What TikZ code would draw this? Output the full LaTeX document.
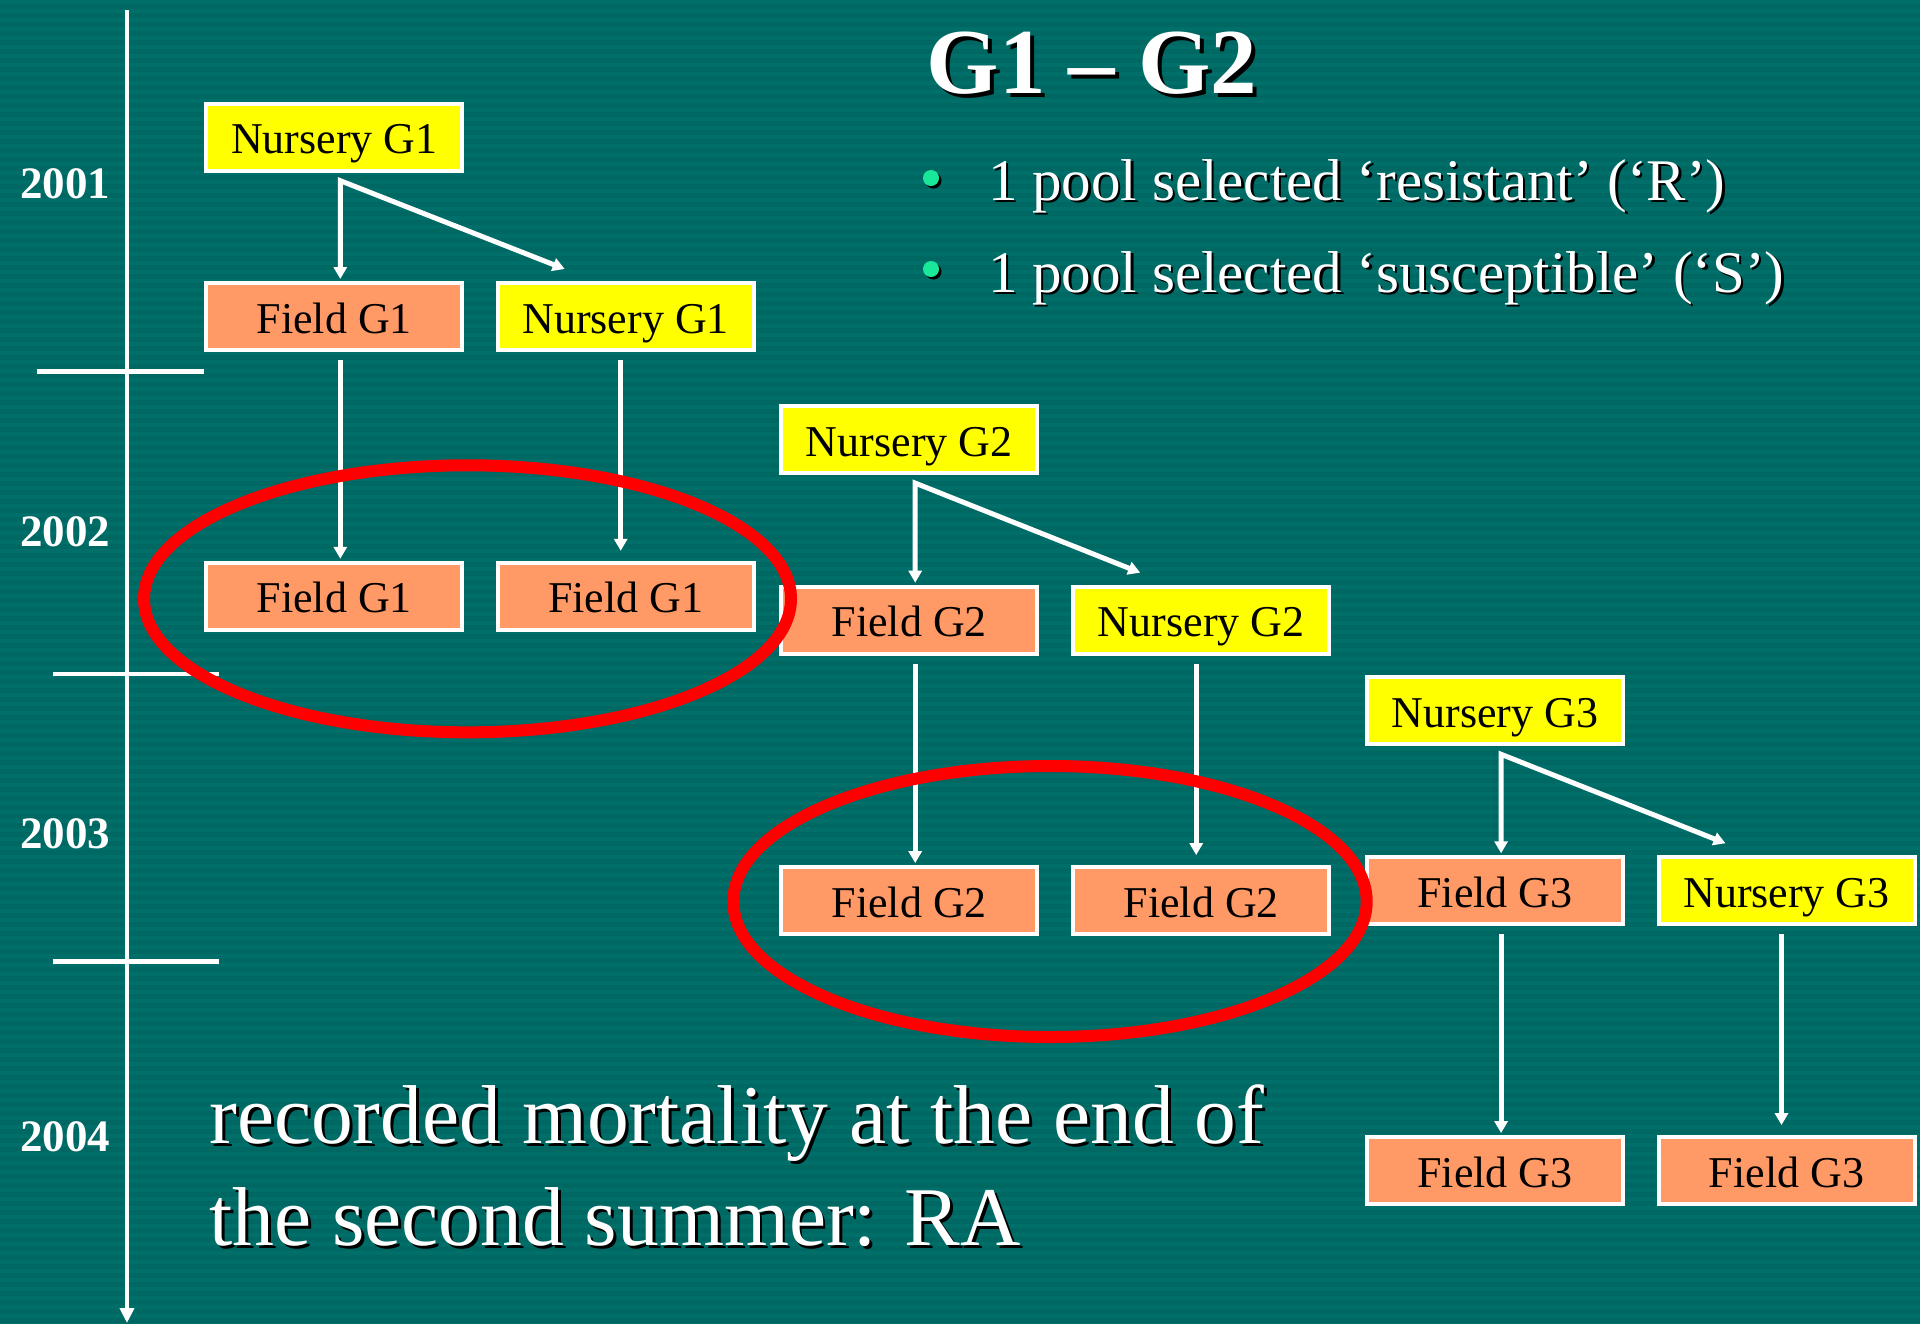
\documentclass[tikz,border=0pt]{standalone}
\usepackage{fontspec}
\setmainfont{Liberation Serif}
\usetikzlibrary{arrows.meta}
\definecolor{slidebg}{RGB}{0,104,99}
\definecolor{slidestripe}{RGB}{0,111,106}
\definecolor{nurseryfill}{RGB}{255,255,0}
\definecolor{fieldfill}{RGB}{255,153,102}
\definecolor{bulletgreen}{RGB}{25,232,155}
\definecolor{ringred}{RGB}{255,0,0}
% white text with a dark drop shadow
\newcommand\shadowtext[2][3pt]{\rlap{\kern#1\raisebox{-#1}{\color{black}#2}}#2}
\begin{document}
\begin{tikzpicture}[x=1pt,y=-1pt,
  genbox/.style={draw=white, line width=4pt, minimum width=256pt, minimum height=67pt,
    inner sep=0pt, text height=33pt, text depth=0pt, text=black,
    font=\fontsize{44}{50}\selectfont},
  nursery/.style={genbox, fill=nurseryfill},
  field/.style={genbox, fill=fieldfill},
  tipA/.tip={Triangle[length=12pt,width=13pt]},
  link/.style={draw=white, line width=5pt, -tipA},
  fork/.style={draw=white, line width=5pt, tipA-tipA, line join=miter},
  axisline/.style={draw=white, line width=4.5pt},
  ring/.style={draw=ringred, line width=12pt},
  year/.style={text=white, inner sep=0pt, font=\fontsize{45}{50}\selectfont\bfseries},
  slidetext/.style={text=white, inner sep=0pt, anchor=base west}
]
\useasboundingbox (0,0) rectangle (1920,1323);
% background with fine horizontal stripes
\fill[slidebg] (0,0) rectangle (1920,1323);
\foreach \i in {0,...,147} {\fill[slidestripe] (0,\i*9) rectangle (1920,\i*9+4);}

% time axis
\coordinate (axtop) at (127,10);
\coordinate (axend) at (127,1323);
\draw[axisline, -{Triangle[length=15pt,width=14pt]}] (axtop) -- (axend);
\coordinate (t1a) at (37,371.5);  \coordinate (t1b) at (204,371.5);
\coordinate (t2a) at (53,674);    \coordinate (t2b) at (219,674);
\coordinate (t3a) at (53,961.5);  \coordinate (t3b) at (219,961.5);
\draw[axisline] (t1a) -- (t1b);
\draw[axisline] (t2a) -- (t2b);
\draw[axisline] (t3a) -- (t3b);
\node[year] (y2001) at (65,184) {2001};
\node[year] (y2002) at (65,532) {2002};
\node[year] (y2003) at (65,834) {2003};
\node[year] (y2004) at (65,1137) {2004};

% generation boxes
\node[nursery] (ng1a) at (334.3,137.2) {Nursery G1};
\node[field]   (fg1a) at (334.3,316.5) {Field G1};
\node[nursery] (ng1b) at (625.7,316.5) {Nursery G1};
\node[field]   (fg1c) at (334.3,596.3) {Field G1};
\node[field]   (fg1d) at (625.7,596.3) {Field G1};
\node[nursery] (ng2a) at (909.2,439.6) {Nursery G2};
\node[field]   (fg2a) at (909.2,620.2) {Field G2};
\node[nursery] (ng2b) at (1201.2,620.2) {Nursery G2};
\node[field]   (fg2c) at (909.2,900.6) {Field G2};
\node[field]   (fg2d) at (1201.2,900.6) {Field G2};
\node[nursery] (ng3a) at (1495.1,710.8) {Nursery G3};
\node[field]   (fg3a) at (1495.1,890.8) {Field G3};
\node[nursery] (ng3b) at (1786.5,890.8) {Nursery G3};
\node[field]   (fg3c) at (1495.1,1170.6) {Field G3};
\node[field]   (fg3d) at (1786.5,1170.6) {Field G3};

% connectors
\draw[fork] ([xshift=6pt,yshift=2pt]fg1a.north) -- ([xshift=6pt,yshift=-8pt]ng1a.south) -- ([xshift=-61pt,yshift=12pt]ng1b.north);
\draw[link] ([xshift=6pt,yshift=-8pt]fg1a.south) -- ([xshift=6pt,yshift=2pt]fg1c.north);
\draw[link] ([xshift=-5pt,yshift=-8pt]ng1b.south) -- ([xshift=-5pt,yshift=10pt]fg1d.north);

\draw[fork] ([xshift=6pt,yshift=2pt]fg2a.north) -- ([xshift=6pt,yshift=-8pt]ng2a.south) -- ([xshift=-61pt,yshift=12pt]ng2b.north);
\draw[link] ([xshift=6pt,yshift=-8pt]fg2a.south) -- ([xshift=6pt,yshift=2pt]fg2c.north);
\draw[link] ([xshift=-5pt,yshift=-8pt]ng2b.south) -- ([xshift=-5pt,yshift=10pt]fg2d.north);

\draw[fork] ([xshift=6pt,yshift=2pt]fg3a.north) -- ([xshift=6pt,yshift=-8pt]ng3a.south) -- ([xshift=-61pt,yshift=12pt]ng3b.north);
\draw[link] ([xshift=6pt,yshift=-8pt]fg3a.south) -- ([xshift=6pt,yshift=2pt]fg3c.north);
\draw[link] ([xshift=-5pt,yshift=-8pt]ng3b.south) -- ([xshift=-5pt,yshift=10pt]fg3d.north);

% highlighted pairs
\draw[ring] (467.5,598.8) ellipse [x radius=323.5, y radius=133.5];
\draw[ring] (1050,901.5) ellipse [x radius=316.7, y radius=135.5];

% heading and bullets
\node[text=white, inner sep=0pt, anchor=base, font=\fontsize{93}{100}\selectfont\bfseries] (title)
  at (1092,93) {\shadowtext[4pt]{G1 \textendash{} G2}};
\fill[black] (933.5,180.5) circle [radius=8];
\fill[bulletgreen] (931,178) circle [radius=8];
\fill[black] (933.5,271.5) circle [radius=8];
\fill[bulletgreen] (931,269) circle [radius=8];
\node[slidetext, font=\fontsize{59}{70}\selectfont] (bullet1) at (988,200)
  {\shadowtext[2.5pt]{1 pool selected ‘resistant’ (‘R’)}};
\node[slidetext, font=\fontsize{59}{70}\selectfont] (bullet2) at (988,292)
  {\shadowtext[2.5pt]{1 pool selected ‘susceptible’ (‘S’)}};

% note at the bottom
\node[slidetext, font=\fontsize{83.5}{100}\selectfont] (note1) at (209,1143)
  {\shadowtext{recorded mortality at the end of}};
\node[slidetext, font=\fontsize{83.5}{100}\selectfont] (note2) at (209,1245)
  {\shadowtext{the second summer: RA}};
\end{tikzpicture}
\end{document}
